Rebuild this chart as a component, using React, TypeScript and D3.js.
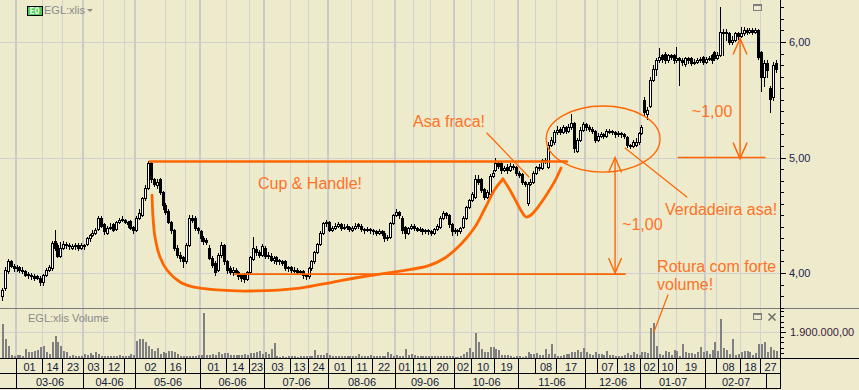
import React from "react";
import * as d3 from "d3";

const W = 859;
const H = 390;

// ---- price data (one entry per trading day, Feb-2006 .. Mar-2007) ----
const opens = [
  3.80, 3.87, 4.02, 4.10, 4.06, 4.04, 4.05, 4.03, 4.02, 3.99,
  3.98, 3.97, 3.97, 3.96, 3.92, 3.98, 4.03, 4.04, 4.28, 4.24,
  4.15, 4.22, 4.25, 4.24, 4.22, 4.23, 4.24, 4.22, 4.24, 4.25,
  4.30, 4.33, 4.35, 4.38, 4.48, 4.42, 4.35, 4.39, 4.42, 4.38,
  4.44, 4.46, 4.46, 4.44, 4.45, 4.40, 4.37, 4.48, 4.50, 4.65,
  4.74, 4.95, 4.81, 4.76, 4.81, 4.70, 4.59, 4.54, 4.44, 4.37,
  4.22, 4.16, 4.14, 4.10, 4.24, 4.48, 4.48, 4.39, 4.36, 4.30,
  4.29, 4.22, 4.13, 4.09, 4.03, 4.16, 4.24, 4.10, 4.04, 4.01,
  4.03, 4.01, 3.98, 3.99, 3.95, 4.01, 4.12, 4.21, 4.18, 4.16,
  4.22, 4.16, 4.15, 4.11, 4.14, 4.11, 4.10, 4.10, 4.05, 4.05,
  4.03, 4.03, 4.02, 4.02, 3.98, 3.97, 4.04, 4.10, 4.18, 4.25,
  4.35, 4.43, 4.44, 4.37, 4.39, 4.41, 4.42, 4.39, 4.41, 4.40,
  4.37, 4.39, 4.42, 4.41, 4.38, 4.37, 4.38, 4.37, 4.36, 4.35,
  4.36, 4.35, 4.30, 4.31, 4.43, 4.50, 4.53, 4.48, 4.40, 4.35,
  4.39, 4.41, 4.39, 4.37, 4.38, 4.36, 4.37, 4.36, 4.35, 4.38,
  4.40, 4.48, 4.52, 4.50, 4.42, 4.36, 4.37, 4.36, 4.40, 4.48,
  4.57, 4.63, 4.66, 4.81, 4.81, 4.73, 4.66, 4.68, 4.84, 4.89,
  4.95, 4.95, 4.89, 4.92, 4.89, 4.93, 4.92, 4.87, 4.86, 4.79,
  4.61, 4.77, 4.79, 4.87, 4.92, 4.91, 4.98, 4.92, 5.11, 5.13,
  5.22, 5.25, 5.22, 5.26, 5.23, 5.26, 5.30, 5.06, 5.15, 5.24,
  5.29, 5.26, 5.25, 5.23, 5.15, 5.19, 5.20, 5.19, 5.23, 5.23,
  5.22, 5.20, 5.21, 5.20, 5.18, 5.11, 5.10, 5.11, 5.13, 5.21,
  5.50, 5.38, 5.45, 5.67, 5.77, 5.84, 5.89, 5.90, 5.84, 5.89,
  5.89, 5.84, 5.86, 5.84, 5.81, 5.86, 5.86, 5.82, 5.83, 5.84,
  5.87, 5.83, 5.85, 5.89, 5.91, 5.86, 5.89, 6.09, 6.09, 6.08,
  6.00, 6.02, 6.08, 6.05, 6.08, 6.10, 6.09, 6.10, 6.09, 6.10,
  5.91, 5.70, 5.82, 5.60, 5.52, 5.82,
];
const highs = [
  3.87, 4.05, 4.12, 4.11, 4.08, 4.07, 4.06, 4.05, 4.03, 4.01,
  4.00, 3.99, 3.98, 3.97, 3.99, 4.04, 4.07, 4.28, 4.37, 4.26,
  4.27, 4.28, 4.27, 4.26, 4.25, 4.26, 4.26, 4.26, 4.25, 4.31,
  4.34, 4.37, 4.39, 4.49, 4.49, 4.43, 4.41, 4.43, 4.43, 4.45,
  4.48, 4.49, 4.47, 4.45, 4.46, 4.41, 4.49, 4.55, 4.66, 4.76,
  4.97, 4.96, 4.82, 4.81, 4.82, 4.71, 4.61, 4.55, 4.45, 4.38,
  4.24, 4.18, 4.15, 4.26, 4.50, 4.50, 4.49, 4.40, 4.37, 4.32,
  4.30, 4.24, 4.15, 4.10, 4.17, 4.27, 4.25, 4.11, 4.06, 4.05,
  4.04, 4.02, 3.99, 4.00, 4.02, 4.15, 4.31, 4.23, 4.20, 4.25,
  4.23, 4.18, 4.17, 4.15, 4.15, 4.12, 4.11, 4.11, 4.06, 4.06,
  4.05, 4.04, 4.03, 4.03, 3.99, 4.05, 4.11, 4.19, 4.26, 4.36,
  4.44, 4.46, 4.45, 4.41, 4.43, 4.44, 4.43, 4.42, 4.42, 4.41,
  4.41, 4.43, 4.43, 4.42, 4.39, 4.40, 4.39, 4.38, 4.37, 4.38,
  4.37, 4.36, 4.33, 4.44, 4.51, 4.55, 4.54, 4.49, 4.41, 4.40,
  4.42, 4.42, 4.40, 4.40, 4.39, 4.38, 4.38, 4.37, 4.39, 4.42,
  4.49, 4.54, 4.53, 4.51, 4.43, 4.39, 4.38, 4.40, 4.49, 4.58,
  4.64, 4.70, 4.85, 4.85, 4.82, 4.74, 4.72, 4.86, 4.89, 5.00,
  4.96, 4.96, 4.93, 4.94, 4.95, 4.94, 4.93, 4.88, 4.87, 4.80,
  4.79, 4.81, 4.88, 4.93, 4.94, 4.99, 5.00, 5.13, 5.18, 5.24,
  5.27, 5.26, 5.28, 5.27, 5.29, 5.38, 5.31, 5.17, 5.26, 5.31,
  5.30, 5.28, 5.26, 5.24, 5.21, 5.22, 5.21, 5.25, 5.25, 5.24,
  5.23, 5.23, 5.22, 5.21, 5.19, 5.12, 5.15, 5.17, 5.22, 5.28,
  5.52, 5.44, 5.70, 5.80, 5.86, 5.95, 5.90, 5.91, 5.90, 5.90,
  5.90, 5.96, 5.87, 5.86, 5.87, 5.87, 5.87, 5.85, 5.86, 5.87,
  5.88, 5.87, 5.88, 5.90, 5.92, 5.91, 6.30, 6.11, 6.11, 6.09,
  6.05, 6.09, 6.09, 6.13, 6.13, 6.12, 6.12, 6.12, 6.12, 6.11,
  5.92, 5.84, 5.84, 5.62, 5.83, 5.84,
];
const lows = [
  3.77, 3.85, 4.00, 4.05, 4.02, 4.02, 4.01, 4.00, 3.97, 3.96,
  3.95, 3.94, 3.95, 3.90, 3.90, 3.97, 4.02, 4.03, 4.20, 4.14,
  4.14, 4.21, 4.22, 4.21, 4.21, 4.21, 4.20, 4.21, 4.21, 4.24,
  4.28, 4.32, 4.34, 4.37, 4.40, 4.34, 4.34, 4.38, 4.36, 4.37,
  4.43, 4.45, 4.43, 4.40, 4.38, 4.35, 4.36, 4.47, 4.49, 4.63,
  4.73, 4.79, 4.75, 4.74, 4.68, 4.55, 4.51, 4.43, 4.35, 4.20,
  4.14, 4.10, 4.05, 4.09, 4.23, 4.44, 4.37, 4.35, 4.28, 4.25,
  4.25, 4.12, 4.05, 3.98, 4.02, 4.14, 4.08, 4.00, 3.99, 3.98,
  3.99, 3.95, 3.93, 3.92, 3.94, 4.00, 4.11, 4.16, 4.14, 4.15,
  4.13, 4.13, 4.10, 4.09, 4.08, 4.08, 4.07, 4.03, 4.02, 4.01,
  4.01, 4.00, 3.99, 3.96, 3.95, 3.96, 4.03, 4.09, 4.17, 4.24,
  4.34, 4.41, 4.36, 4.36, 4.38, 4.40, 4.37, 4.38, 4.38, 4.36,
  4.36, 4.38, 4.39, 4.36, 4.35, 4.36, 4.35, 4.34, 4.33, 4.34,
  4.33, 4.28, 4.29, 4.30, 4.42, 4.49, 4.48, 4.35, 4.30, 4.34,
  4.38, 4.37, 4.36, 4.36, 4.34, 4.35, 4.34, 4.33, 4.34, 4.37,
  4.39, 4.47, 4.48, 4.40, 4.33, 4.35, 4.33, 4.35, 4.39, 4.47,
  4.56, 4.62, 4.65, 4.77, 4.70, 4.64, 4.65, 4.67, 4.83, 4.88,
  4.91, 4.87, 4.88, 4.87, 4.88, 4.90, 4.85, 4.83, 4.77, 4.75,
  4.59, 4.76, 4.78, 4.86, 4.89, 4.90, 4.95, 4.91, 5.10, 5.12,
  5.20, 5.20, 5.21, 5.21, 5.22, 5.25, 5.05, 5.05, 5.14, 5.23,
  5.24, 5.23, 5.21, 5.13, 5.14, 5.18, 5.17, 5.18, 5.21, 5.20,
  5.18, 5.19, 5.18, 5.17, 5.09, 5.08, 5.09, 5.10, 5.12, 5.20,
  5.36, 5.33, 5.44, 5.66, 5.71, 5.83, 5.83, 5.82, 5.83, 5.85,
  5.82, 5.83, 5.63, 5.80, 5.79, 5.82, 5.80, 5.81, 5.82, 5.83,
  5.81, 5.82, 5.84, 5.82, 5.84, 5.85, 5.88, 5.89, 6.02, 5.98,
  5.98, 6.01, 6.03, 6.04, 6.06, 6.07, 6.08, 6.07, 6.08, 5.85,
  5.58, 5.62, 5.70, 5.39, 5.50, 5.74,
];
const closes = [
  3.85, 4.03, 4.10, 4.06, 4.04, 4.05, 4.03, 4.02, 3.98, 3.98,
  3.97, 3.96, 3.96, 3.92, 3.98, 4.03, 4.05, 4.26, 4.22, 4.15,
  4.22, 4.25, 4.24, 4.23, 4.23, 4.24, 4.22, 4.24, 4.23, 4.30,
  4.33, 4.35, 4.37, 4.48, 4.41, 4.36, 4.39, 4.40, 4.37, 4.44,
  4.46, 4.47, 4.44, 4.42, 4.39, 4.37, 4.48, 4.52, 4.65, 4.74,
  4.95, 4.81, 4.77, 4.79, 4.70, 4.59, 4.53, 4.44, 4.37, 4.22,
  4.16, 4.13, 4.10, 4.24, 4.48, 4.46, 4.39, 4.37, 4.30, 4.28,
  4.27, 4.13, 4.07, 4.01, 4.16, 4.24, 4.10, 4.03, 4.01, 4.03,
  4.01, 3.97, 3.96, 3.95, 4.01, 4.14, 4.22, 4.18, 4.16, 4.23,
  4.15, 4.15, 4.11, 4.13, 4.10, 4.10, 4.09, 4.04, 4.04, 4.03,
  4.03, 4.01, 4.01, 3.98, 3.97, 4.04, 4.10, 4.18, 4.25, 4.35,
  4.43, 4.44, 4.37, 4.39, 4.41, 4.42, 4.39, 4.40, 4.40, 4.38,
  4.39, 4.41, 4.41, 4.38, 4.37, 4.38, 4.37, 4.36, 4.35, 4.36,
  4.35, 4.30, 4.31, 4.43, 4.50, 4.53, 4.50, 4.37, 4.35, 4.39,
  4.41, 4.39, 4.37, 4.38, 4.36, 4.37, 4.36, 4.35, 4.38, 4.41,
  4.48, 4.52, 4.50, 4.42, 4.36, 4.37, 4.36, 4.39, 4.48, 4.57,
  4.63, 4.68, 4.81, 4.79, 4.72, 4.66, 4.70, 4.84, 4.87, 4.95,
  4.93, 4.89, 4.91, 4.89, 4.93, 4.92, 4.87, 4.85, 4.79, 4.77,
  4.77, 4.79, 4.87, 4.92, 4.91, 4.98, 4.97, 5.11, 5.15, 5.22,
  5.24, 5.22, 5.26, 5.23, 5.26, 5.30, 5.08, 5.15, 5.24, 5.29,
  5.26, 5.25, 5.23, 5.15, 5.19, 5.20, 5.19, 5.23, 5.23, 5.22,
  5.20, 5.21, 5.20, 5.19, 5.11, 5.10, 5.13, 5.13, 5.21, 5.26,
  5.39, 5.41, 5.67, 5.77, 5.84, 5.87, 5.85, 5.84, 5.89, 5.87,
  5.84, 5.86, 5.84, 5.83, 5.86, 5.84, 5.82, 5.83, 5.84, 5.85,
  5.83, 5.85, 5.86, 5.84, 5.86, 5.89, 6.09, 6.09, 6.08, 6.00,
  6.02, 6.08, 6.05, 6.08, 6.10, 6.09, 6.10, 6.09, 6.10, 5.87,
  5.70, 5.82, 5.76, 5.51, 5.80, 5.77,
];
// volume in thousands of shares
const volumes = [
  2500, 1400, 880, 220, 180, 200, 220, 180, 650, 450,
  430, 500, 580, 800, 880, 430, 300, 1170, 1600, 1170,
  880, 500, 430, 180, 200, 150, 180, 170, 300, 250,
  370, 220, 430, 300, 150, 170, 140, 160, 180, 150,
  200, 170, 150, 150, 300, 220, 1240, 1400, 1380, 1170,
  880, 650, 500, 730, 300, 430, 370, 500, 500, 430,
  300, 170, 150, 180, 170, 160, 150, 190, 200, 3280,
  220, 200, 300, 250, 430, 300, 370, 370, 250, 220,
  200, 220, 250, 300, 250, 370, 370, 430, 500, 300,
  430, 300, 650, 1100, 170, 100, 120, 90, 130, 150,
  110, 100, 130, 140, 120, 150, 170, 580, 250, 200,
  230, 370, 220, 150, 170, 140, 160, 150, 130, 140,
  160, 170, 300, 140, 160, 130, 250, 150, 140, 160,
  150, 170, 430, 300, 160, 220, 150, 170, 650, 200,
  300, 250, 170, 150, 150, 140, 160, 150, 130, 170,
  160, 150, 130, 170, 120, 100, 80, 150, 300, 430,
  730, 430, 1830, 1170, 650, 430, 430, 800, 800, 650,
  580, 220, 220, 220, 120, 100, 130, 110, 90, 150,
  430, 300, 300, 370, 220, 220, 650, 300, 1020, 300,
  170, 150, 220, 300, 300, 430, 430, 580, 430, 730,
  430, 300, 250, 430, 300, 300, 220, 500, 200, 220,
  170, 150, 170, 220, 370, 250, 430, 300, 220, 430,
  430, 370, 2190, 2560, 880, 300, 250, 500, 430, 200,
  580, 500, 150, 1020, 430, 370, 370, 300, 430, 800,
  430, 500, 300, 580, 1170, 500, 2850, 730, 580, 300,
  1390, 220, 300, 430, 500, 500, 430, 220, 370, 1020,
  1020, 1170, 430, 800, 580, 500,
];

// ---- time axis (trading-day index of the first day in each cell) ----
const dayTickIdx = [5, 14, 21, 28, 35, 42, 46, 56, 63, 68, 77, 85, 90, 99, 105, 112, 120, 127, 135, 141, 147, 155, 161, 169, 177, 183, 190, 200, 204, 211, 219, 225, 231, 241, 245, 253, 260];
const dayTickLabels = ["01", "14", "23", "03", "12", "", "02", "16", "", "01", "14", "23", "03", "13", "24", "01", "11", "22", "01", "11", "20", "02", "10", "19", "", "08", "17", "", "07", "18", "02", "10", "19", "", "08", "18", "27"];
const monthIdx = [5, 28, 46, 68, 90, 112, 135, 155, 177, 200, 219, 241, 262];
const monthLabels = ["03-06", "04-06", "05-06", "06-06", "07-06", "08-06", "09-06", "10-06", "11-06", "12-06", "01-07", "02-07", ""];

// price axis
const priceMajor = [4, 5, 6];
const volumeMajor = [1900];

// ---- annotations in data space: [bar index, price] ----
const cupPts: [number, number][] = [
  [51.21, 4.675], [51.55, 4.485], [52.24, 4.312], [53.95, 4.139], [56.35, 4.026],
  [60.8, 3.922], [65.25, 3.879], [73.47, 3.853], [84.77, 3.844], [101.9, 3.87],
  [113.2, 3.922], [124.8, 3.974], [136.1, 4.017], [145.7, 4.061], [151.5, 4.13],
  [157.4, 4.26], [161.8, 4.398], [165.3, 4.563], [168.7, 4.727], [171.4, 4.814],
];
const handlePts: [number, number][] = [
  [171.4, 4.814], [173.8, 4.719], [176.2, 4.606], [177.9, 4.528], [179.3, 4.485],
  [181.0, 4.502], [183.4, 4.571], [186.5, 4.684], [189.2, 4.797], [191.3, 4.909],
];
const resistance = { from: 50.5, to: 193.3, price: 4.965 };
const support = { from: 79.6, to: 213.2, price: 3.991 };
const handleEllipse = { i: 205.7, p: 5.16, di: 19.5, dp: 0.286 };
const leftArrow = { i: 209.8, top: 5.0, bottom: 4.0 };
const rightArrow = { i: 252.6, top: 6.03, bottom: 4.99 };
const rightBase = { from: 231.4, to: 261.1, price: 5.0 };
const pointerAsa: [number, number][] = [[165.9, 5.212], [180.3, 4.831]];
const pointerVerd: [number, number][] = [[234.4, 4.658], [213.2, 5.082]];
const pointerRotura = { i1: 227.9, p1: 3.81, i2: 223.1, v2: 1900 };
const labels = [
  { i: 87.5, p: 4.727, t: "Cup & Handle!" },
  { i: 140.6, p: 5.264, t: "Asa fraca!" },
  { i: 226.9, p: 4.502, t: "Verdadeira asa!" },
  { i: 212.2, p: 4.372, t: "~1,00" },
  { i: 236.1, p: 5.353, t: "~1,00" },
  { i: 224.2, p: 4.011, t: "Rotura com forte" },
  { i: 224.2, p: 3.853, t: "volume!" },
];

const BG = "#EDEBCC";
const ORANGE = "#FF6600";
const ORANGE_T = "#FF7226";
const FONT = "'Liberation Sans', Arial, sans-serif";

const loc = d3.formatLocale({ decimal: ",", thousands: ".", grouping: [3], currency: ["", ""] });
const fmt2 = loc.format(",.2f");

export default function App() {
  const n = closes.length;
  const x = d3.scaleLinear().domain([0, 265]).range([2.46, 2.46 + 2.92 * 265]);
  const y = d3.scaleLinear().domain([4, 6]).range([273, 42]);
  const yv = d3.scaleLinear().domain([0, 1900]).range([358, 332]);
  const AX = 780.5; // axis line
  const PRICE_BOTTOM = 308;
  const edge = (k: number) => Math.round(x(k - 0.5)) + 0.5;

  const line = d3.line<[number, number]>().x((d) => x(d[0])).y((d) => y(d[1])).curve(d3.curveCatmullRom.alpha(0.5));

  const minorPrices = d3.range(37, 64).map((v) => v / 10);
  const volTicks = d3.range(0, 10).map((k) => k * 380);

  const cells = dayTickIdx.map((k, j) => {
    const x0 = edge(k);
    const x1 = j < dayTickIdx.length - 1 ? edge(dayTickIdx[j + 1]) : AX;
    return { x0, x1, label: dayTickLabels[j] };
  });
  const mcells = monthIdx.map((k, j) => {
    const x0 = edge(k);
    const x1 = j < monthIdx.length - 1 ? edge(monthIdx[j + 1]) : AX;
    return { x0, x1, label: monthLabels[j] };
  });

  const arrow = (xi: number, yTop: number, yBot: number, aw: number, ah: number, key: string) => {
    const xp = x(xi);
    return (
      <g key={key} stroke={ORANGE} strokeWidth={1.4} fill="none">
        <line x1={xp} x2={xp} y1={yTop} y2={yBot} />
        <polyline points={`${xp - aw},${yTop + ah} ${xp},${yTop} ${xp + aw},${yTop + ah}`} />
        <polyline points={`${xp - aw},${yBot - ah} ${xp},${yBot} ${xp + aw},${yBot - ah}`} />
      </g>
    );
  };

  const ex = x(handleEllipse.i);
  const ey = y(handleEllipse.p);
  const erx = x(handleEllipse.i + handleEllipse.di) - ex;
  const ery = y(handleEllipse.p - handleEllipse.dp) - ey;

  return (
    <div style={{ position: "absolute", left: 0, top: 0 }}>
      <svg width={W} height={H} style={{ display: "block" }} fontFamily={FONT}>
        <rect x={0} y={0} width={W} height={H} fill={BG} />

        {/* vertical grid */}
        <g shapeRendering="crispEdges">
          {dayTickIdx.map((k) => (
            <line key={"g" + k} x1={edge(k)} x2={edge(k)} y1={0} y2={358} stroke="#D3D3D0" strokeWidth={1} />
          ))}
          {monthIdx.slice(0, -1).map((k) => (
            <line key={"m" + k} x1={edge(k) - 0.5} x2={edge(k) - 0.5} y1={0} y2={358} stroke="#CACAC8" strokeWidth={2} />
          ))}
          {priceMajor.map((p) => (
            <line key={"h" + p} x1={0} x2={AX} y1={Math.round(y(p)) + 0.5} y2={Math.round(y(p)) + 0.5} stroke="#D0D0CE" />
          ))}
          {volumeMajor.map((v) => (
            <line key={"hv" + v} x1={0} x2={AX} y1={Math.round(yv(v)) + 0.5} y2={Math.round(yv(v)) + 0.5} stroke="#D0D0CE" />
          ))}
        </g>

        {/* candles */}
        <g shapeRendering="crispEdges">
          {closes.map((c, i) => {
            const o = opens[i];
            const px = Math.floor(x(i));
            const yt = Math.round(y(Math.max(o, c)));
            const yb = Math.round(y(Math.min(o, c)));
            const yh = Math.round(y(highs[i]));
            const yl = Math.round(y(lows[i]));
            const up = c >= o;
            return (
              <g key={"c" + i}>
                <line x1={px + 0.5} x2={px + 0.5} y1={yh} y2={yl + 1} stroke="#000" />
                <rect x={px - 0.5} y={yt + 0.5} width={2} height={Math.max(yb - yt, 1)} fill={up ? "#FFFFFF" : "#000"} stroke="#000" strokeWidth={1} />
              </g>
            );
          })}
        </g>

        {/* volume */}
        <g shapeRendering="crispEdges" fill="#808080">
          {volumes.map((v, i) => {
            const px = Math.floor(x(i));
            const yt = Math.round(yv(v));
            return <rect key={"v" + i} x={px - 0.5} y={yt} width={2} height={358 - yt} />;
          })}
        </g>

        {/* pane separators & axis frame */}
        <g shapeRendering="crispEdges">
          <line x1={0} x2={W} y1={PRICE_BOTTOM + 0.5} y2={PRICE_BOTTOM + 0.5} stroke="#7A7A7A" />
          <line x1={0} x2={W} y1={358.5} y2={358.5} stroke="#000" />
          <line x1={0} x2={AX} y1={373.5} y2={373.5} stroke="#000" />
          <line x1={0} x2={AX} y1={388.5} y2={388.5} stroke="#000" />
          <line x1={AX} x2={AX} y1={0} y2={389} stroke="#000" />
          {cells.map((c, j) => (
            <line key={"ds" + j} x1={c.x0} x2={c.x0} y1={359} y2={374} stroke="#000" />
          ))}
          {mcells.map((c, j) => (
            <line key={"ms" + j} x1={c.x0} x2={c.x0} y1={374} y2={389} stroke="#000" />
          ))}
          {minorPrices.map((p) => {
            const major = Math.abs(p - Math.round(p)) < 1e-6;
            const yy = Math.round(y(p)) + 0.5;
            return <line key={"pt" + p} x1={AX} x2={AX + (major ? 5 : 3)} y1={yy} y2={yy} stroke="#000" />;
          })}
          {volTicks.map((v) => {
            const yy = Math.round(yv(v)) + 0.5;
            if (yy < 310) return null;
            return <line key={"vt" + v} x1={AX} x2={AX + (v === 1900 ? 5 : 3)} y1={yy} y2={yy} stroke="#000" />;
          })}
        </g>

        {/* axis labels */}
        <g fontSize={11} fill="#1E2450">
          {priceMajor.map((p) => (
            <text key={"pl" + p} x={789} y={y(p) + 4}>{fmt2(p)}</text>
          ))}
          {volumeMajor.map((v) => (
            <text key={"vl" + v} x={790} y={yv(v) + 4} fill="#3A2040">{fmt2(v * 1000)}</text>
          ))}
        </g>
        <g fontSize={11} fill="#141A3A" textAnchor="middle">
          {cells.map((c, j) => (
            <text key={"dl" + j} x={(c.x0 + c.x1) / 2} y={370.5}>{c.label}</text>
          ))}
          {mcells.map((c, j) => (
            <text key={"ml" + j} x={(c.x0 + c.x1) / 2} y={385.5}>{c.label}</text>
          ))}
        </g>

        {/* title badges */}
        <rect x={27.5} y={6.5} width={15} height={9} fill="#4FCB4F" stroke="#000" />
        <text x={29.5} y={14.3} fontSize={8.5} fontWeight="bold" fill="#E6FFE6" fontFamily="'DejaVu Sans Mono', monospace">EO</text>
        <text x={44} y={14} fontSize={11} fill="#8A8A8A">EGL:xlis</text>
        <path d="M87,9 L93,9 L90,12 Z" fill="#8A8A8A" />
        <text x={28} y={322} fontSize={11} fill="#8A8A8A">EGL:xlis Volume</text>
        <g fill="none" stroke="#808080" shapeRendering="crispEdges">
          <rect x={753.5} y={4.5} width={8} height={6} />
          <line x1={753} x2={762} y1={5.5} y2={5.5} />
          <rect x={753.5} y={313.5} width={8} height={6} />
          <line x1={753} x2={762} y1={314.5} y2={314.5} />
        </g>
        <g stroke="#707070" strokeWidth={1.6}>
          <line x1={768.5} y1={313.5} x2={775.5} y2={320.5} />
          <line x1={775.5} y1={313.5} x2={768.5} y2={320.5} />
        </g>

        {/* annotations */}
        <g fill="none" strokeLinecap="round">
          <line x1={x(resistance.from)} x2={x(resistance.to)} y1={y(resistance.price)} y2={y(resistance.price)} stroke={ORANGE} strokeWidth={2.6} />
          <line x1={x(support.from)} x2={x(support.to)} y1={y(support.price)} y2={y(support.price)} stroke={ORANGE} strokeWidth={1.8} />
          <path d={line(cupPts) || ""} stroke={ORANGE} strokeWidth={2.8} />
          <path d={line(handlePts) || ""} stroke={ORANGE} strokeWidth={2.8} />
          <ellipse cx={ex} cy={ey} rx={erx} ry={ery} stroke={ORANGE} strokeWidth={1.3} />
          <line x1={x(pointerAsa[0][0])} y1={y(pointerAsa[0][1])} x2={x(pointerAsa[1][0])} y2={y(pointerAsa[1][1])} stroke={ORANGE} strokeWidth={1.2} />
          <line x1={x(pointerVerd[0][0])} y1={y(pointerVerd[0][1])} x2={x(pointerVerd[1][0])} y2={y(pointerVerd[1][1])} stroke={ORANGE} strokeWidth={1.2} />
          <line x1={x(pointerRotura.i1)} y1={y(pointerRotura.p1)} x2={x(pointerRotura.i2)} y2={yv(pointerRotura.v2)} stroke={ORANGE} strokeWidth={1.2} />
          <line x1={x(rightBase.from)} x2={x(rightBase.to)} y1={y(rightBase.price)} y2={y(rightBase.price)} stroke={ORANGE} strokeWidth={1.4} />
        </g>
        {arrow(leftArrow.i, y(leftArrow.top), y(leftArrow.bottom), 6.5, 15, "la")}
        {arrow(rightArrow.i, y(rightArrow.top), y(rightArrow.bottom), 7, 16, "ra")}
        <g fontSize={16} fill={ORANGE_T}>
          {labels.map((l, j) => (
            <text key={"al" + j} x={x(l.i)} y={y(l.p)}>{l.t}</text>
          ))}
        </g>
      </svg>
    </div>
  );
}
